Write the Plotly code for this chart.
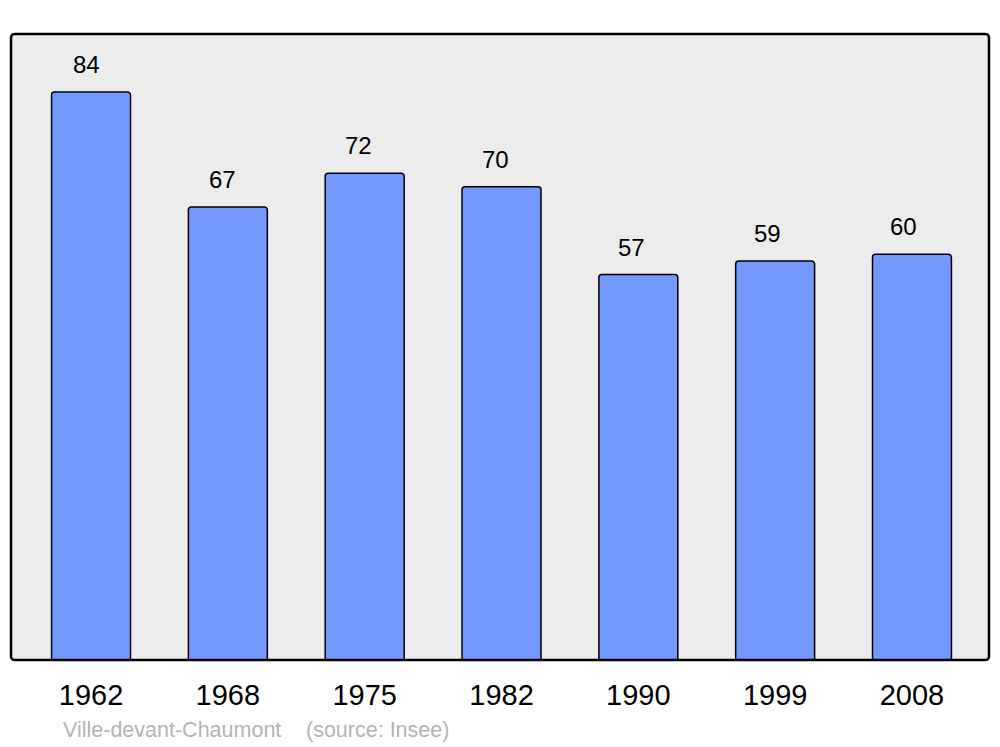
import plotly.graph_objects as go

years = ["1962", "1968", "1975", "1982", "1990", "1999", "2008"]
population = [84, 67, 72, 70, 57, 59, 60]
place = "Ville-devant-Chaumont"
source = "(source: Insee)"

W, H = 1000, 747
L, R, T, B = 11, 989, 34, 660
FONT = "Liberation Sans, Arial, sans-serif"

fig = go.Figure()
fig.add_trace(go.Bar(
    x=list(range(len(years))), y=population, width=0.577,
    marker=dict(color="#7399ff", line=dict(color="black", width=1.5), cornerradius=3),
    hoverinfo="skip",
))

for i, v in enumerate(population):
    fig.add_annotation(x=i, y=v, text=str(v), showarrow=False, yanchor="bottom",
                       yshift=12, xshift=-5 - 0.5 * i,
                       font=dict(size=24, color="black", family=FONT))

# rounded frame
rx, ry = 4 / (R - L), 4 / (B - T)
path = (f"M {rx},0 L {1-rx},0 Q 1,0 1,{ry} L 1,{1-ry} Q 1,1 {1-rx},1 "
        f"L {rx},1 Q 0,1 0,{1-ry} L 0,{ry} Q 0,0 {rx},0 Z")
fig.add_shape(type="path", xref="paper", yref="paper", path=path,
              line=dict(color="black", width=2.5), layer="above")

ys = (B - 730) / (B - T)
fig.add_annotation(xref="paper", yref="paper", x=(61 - L) / (R - L), y=ys,
                   text=place, showarrow=False, xanchor="left", yanchor="middle",
                   font=dict(size=21.5, color="#b4b4b4", family=FONT))
fig.add_annotation(xref="paper", yref="paper", x=(304 - L) / (R - L), y=ys,
                   text=source, showarrow=False, xanchor="left", yanchor="middle",
                   font=dict(size=21.5, color="#b4b4b4", family=FONT))

fig.update_layout(
    width=W, height=H,
    margin=dict(l=L, r=W - R, t=T, b=H - B, pad=0),
    paper_bgcolor="white", plot_bgcolor="#ececec",
    showlegend=False,
    font=dict(family=FONT, color="black"),
    xaxis=dict(range=[-0.585, 6.563], tickmode="array", tickvals=list(range(len(years))),
               ticktext=years, tickfont=dict(size=29), showgrid=False, zeroline=False,
               ticks="", ticklabelstandoff=15, fixedrange=True),
    yaxis=dict(range=[0, 92.58], showticklabels=False, showgrid=False, zeroline=False,
               ticks="", fixedrange=True),
)

fig.write_html("out.html", config={"displayModeBar": False},
               post_script="document.body.style.margin='0';")
